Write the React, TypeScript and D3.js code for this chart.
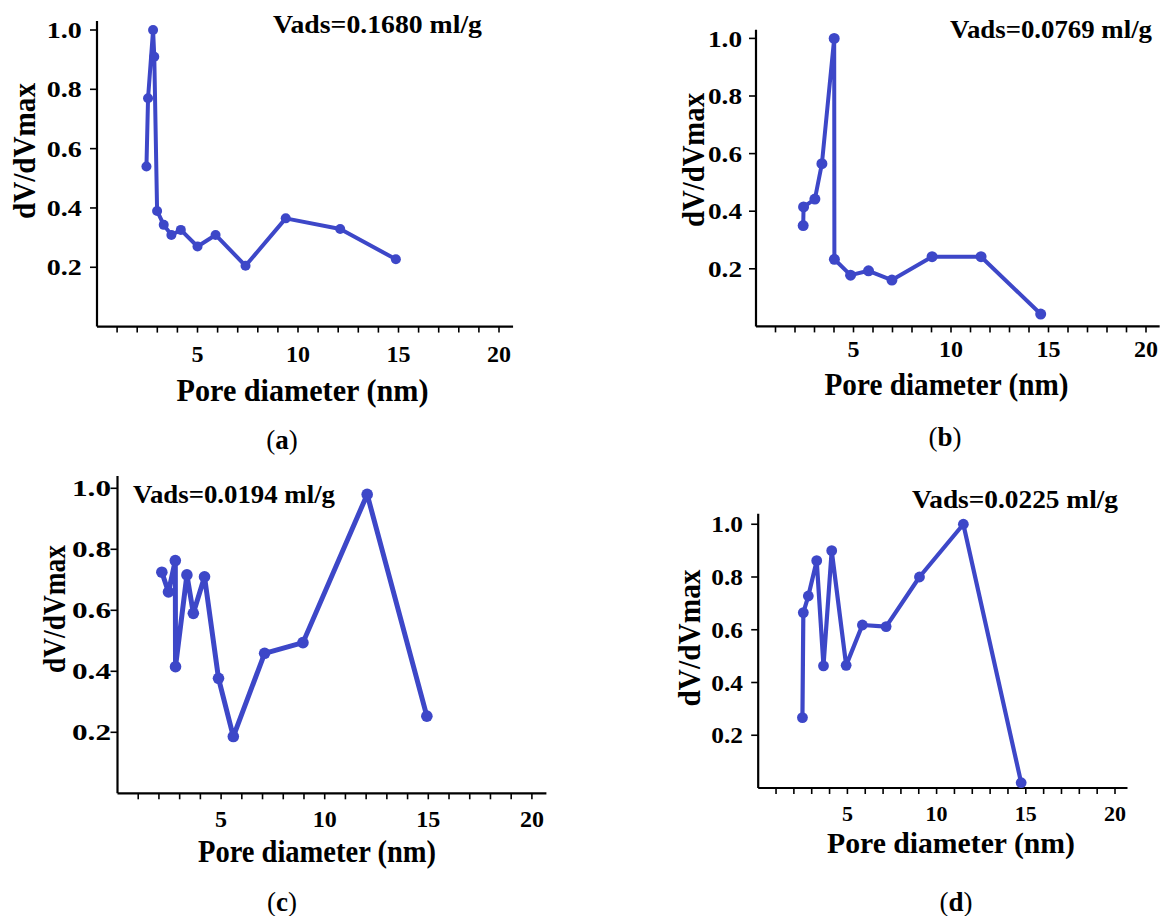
import React from "react";
import * as d3 from "d3";

// Pore size distributions (normalised dV/dVmax against pore diameter, nm)
const diameterA = [2.46, 2.54, 2.79, 2.85, 2.99, 3.32, 3.7, 4.17, 5.0, 5.9, 7.39, 9.39, 12.1, 14.87];
const dvA = [0.54, 0.77, 1.0, 0.91, 0.39, 0.343, 0.309, 0.326, 0.27, 0.309, 0.205, 0.365, 0.329, 0.227];

const diameterB = [2.42, 2.44, 3.02, 3.38, 4.01, 4.02, 4.85, 5.77, 6.97, 9.03, 11.54, 14.6];
const dvB = [0.35, 0.415, 0.442, 0.565, 1.0, 0.233, 0.178, 0.193, 0.161, 0.242, 0.242, 0.043];

const diameterC = [2.14, 2.46, 2.79, 2.8, 3.35, 3.66, 4.2, 4.875, 5.59, 7.1, 8.95, 12.05, 14.93];
const dvC = [0.725, 0.66, 0.763, 0.415, 0.716, 0.59, 0.71, 0.377, 0.186, 0.459, 0.494, 0.98, 0.253];

const diameterD = [2.48, 2.53, 2.81, 3.28, 3.66, 4.12, 4.93, 5.84, 7.17, 9.04, 11.5, 14.74];
const dvD = [0.267, 0.665, 0.728, 0.862, 0.463, 0.9, 0.465, 0.618, 0.612, 0.8, 1.0, 0.02];

const vadsLabels = ["Vads=0.1680 ml/g", "Vads=0.0769 ml/g", "Vads=0.0194 ml/g", "Vads=0.0225 ml/g"];
const panelLetters = ["a", "b", "c", "d"];

const xMinorTicks = [1, 2, 3, 4, 5, 6, 7, 8, 9, 10, 11, 12, 13, 14, 15, 16, 17, 18, 19, 20];
const xMajorTicks = [5, 10, 15, 20];
const yTicks = [0.2, 0.4, 0.6, 0.8, 1.0];
const yTickLabels = ["0.2", "0.4", "0.6", "0.8", "1.0"];

const xTitle = "Pore diameter (nm)";
const yTitle = "dV/dVmax";
const xAxisMax = 20.7;

const LINE = "#3d47c8";
const SERIF = "'Liberation Serif', 'Times New Roman', serif";

type Layout = {
  ox: number; oy: number; kx: number; ky: number; yTop: number;
  yLabRight: number; yLabW: number; xLabBase: number; xLabSize: number;
  vadsX: number; vadsW: number; vadsBase: number;
  xtCx: number; xtBase: number; xtW: number; xtSize: number;
  ytCy: number; ytBx: number; ytLen: number;
  letCx: number; letBase: number;
  sw: number; r: number;
};

const layouts: Layout[] = [
  { ox: 97, oy: 326.6, kx: 20.1, ky: 296.6, yTop: 1.03, yLabRight: 81.7, yLabW: 35, xLabBase: 361.5, xLabSize: 24,
    vadsX: 273, vadsW: 209, vadsBase: 33, xtCx: 302.5, xtBase: 401, xtW: 252, xtSize: 31,
    ytCy: 151, ytBx: 35, ytLen: 136, letCx: 282, letBase: 449, sw: 4, r: 5 },
  { ox: 756, oy: 326.4, kx: 19.5, ky: 288, yTop: 1.03, yLabRight: 742, yLabW: 34, xLabBase: 356.5, xLabSize: 24,
    vadsX: 950, vadsW: 202, vadsBase: 38, xtCx: 946.5, xtBase: 395, xtW: 244, xtSize: 31,
    ytCy: 160, ytBx: 704, ytLen: 134, letCx: 945, letBase: 446, sw: 4, r: 5.5 },
  { ox: 117.5, oy: 793.3, kx: 20.72, ky: 305, yTop: 1.04, yLabRight: 111, yLabW: 39, xLabBase: 827, xLabSize: 24,
    vadsX: 133, vadsW: 202, vadsBase: 503, xtCx: 317, xtBase: 861.5, xtW: 238, xtSize: 31,
    ytCy: 609, ytBx: 64.5, ytLen: 128, letCx: 282, letBase: 911, sw: 5, r: 5.8 },
  { ox: 758.2, oy: 788, kx: 17.84, ky: 263.75, yTop: 1.04, yLabRight: 743, yLabW: 31.7, xLabBase: 820.5, xLabSize: 22,
    vadsX: 912, vadsW: 206, vadsBase: 508, xtCx: 951, xtBase: 853, xtW: 248, xtSize: 30,
    ytCy: 638, ytBx: 700, ytLen: 137, letCx: 956, letBase: 911, sw: 4.2, r: 5.4 },
];

const seriesX = [diameterA, diameterB, diameterC, diameterD];
const seriesY = [dvA, dvB, dvC, dvD];

function Panel({ idx }: { idx: number }) {
  const L = layouts[idx];
  const xs = seriesX[idx];
  const ys = seriesY[idx];
  const x = d3.scaleLinear().domain([0, xAxisMax]).range([L.ox, L.ox + xAxisMax * L.kx]);
  const y = d3.scaleLinear().domain([0, L.yTop]).range([L.oy, L.oy - L.yTop * L.ky]);
  const pts: [number, number][] = xs.map((v, i) => [v, ys[i]]);
  const line = d3.line<[number, number]>().x((d) => x(d[0])).y((d) => y(d[1]));

  return (
    <g>
      {/* axes */}
      <line x1={x(0)} x2={x(xAxisMax)} y1={y(0)} y2={y(0)} stroke="#000" strokeWidth={2.2} />
      <line x1={x(0)} x2={x(0)} y1={y(0)} y2={y(L.yTop)} stroke="#000" strokeWidth={2.2} />
      {xMinorTicks.map((t) => (
        <line key={"xt" + t} x1={x(t)} x2={x(t)} y1={y(0)} y2={y(0) + 6} stroke="#000" strokeWidth={1.6} />
      ))}
      {xMajorTicks.map((t) => (
        <text key={"xl" + t} x={x(t)} y={L.xLabBase} textAnchor="middle" fontFamily={SERIF}
          fontWeight="bold" fontSize={L.xLabSize} fill="#000">{t}</text>
      ))}
      {yTicks.map((t, i) => (
        <g key={"yt" + t}>
          <line x1={x(0) - 7} x2={x(0)} y1={y(t)} y2={y(t)} stroke="#000" strokeWidth={1.6} />
          <text x={L.yLabRight - L.yLabW} y={y(t)} dy="0.34em" textLength={L.yLabW}
            lengthAdjust="spacingAndGlyphs" fontFamily={SERIF} fontWeight="bold" fontSize={24}
            fill="#000">{yTickLabels[i]}</text>
        </g>
      ))}
      {/* titles */}
      <text x={L.xtCx - L.xtW / 2} y={L.xtBase} textLength={L.xtW} lengthAdjust="spacingAndGlyphs"
        fontFamily={SERIF} fontWeight="bold" fontSize={L.xtSize} fill="#000">{xTitle}</text>
      <text transform={`translate(${L.ytBx},${L.ytCy}) rotate(-90)`} x={-L.ytLen / 2} y={0}
        textLength={L.ytLen} lengthAdjust="spacingAndGlyphs" fontFamily={SERIF} fontWeight="bold"
        fontSize={31} fill="#000">{yTitle}</text>
      <text x={L.vadsX} y={L.vadsBase} textLength={L.vadsW} lengthAdjust="spacingAndGlyphs"
        fontFamily={SERIF} fontWeight="bold" fontSize={25} fill="#000">{vadsLabels[idx]}</text>
      {/* data */}
      <path d={line(pts) || ""} fill="none" stroke={LINE} strokeWidth={L.sw} strokeLinejoin="round" />
      {pts.map((p, i) => (
        <circle key={"p" + i} cx={x(p[0])} cy={y(p[1])} r={L.r} fill={LINE} />
      ))}
      {/* panel letter */}
      <text x={L.letCx} y={L.letBase} textAnchor="middle" fontFamily={SERIF} fontSize={27} fill="#000">
        (<tspan fontWeight="bold">{panelLetters[idx]}</tspan>)
      </text>
    </g>
  );
}

export default function App() {
  return (
    <svg width={1163} height={916} viewBox="0 0 1163 916"
      style={{ position: "absolute", left: 0, top: 0, background: "#fff" }}>
      <rect x={0} y={0} width={1163} height={916} fill="#fff" />
      {[0, 1, 2, 3].map((i) => (
        <Panel key={i} idx={i} />
      ))}
    </svg>
  );
}
